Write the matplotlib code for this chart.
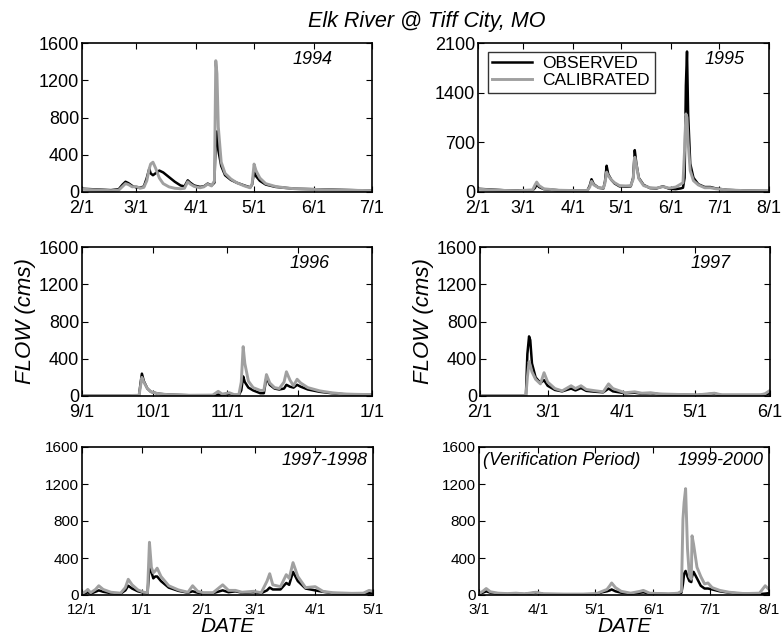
import datetime as dt
import numpy as np
import matplotlib
matplotlib.use("Agg")
import matplotlib.pyplot as plt
import matplotlib.dates as mdates
from matplotlib.ticker import FuncFormatter

plt.rcParams['font.family'] = ['Liberation Sans', 'DejaVu Sans']

# ---- data (day offset from panel start, flow in cms) ----
# 1994: 2/1 - 7/1
d94 = [0, 5, 10, 15, 19, 21, 22.5, 24, 26, 28, 30, 32, 33.5, 34.8, 35.5, 36.7, 38, 40, 42, 45,
       48, 51, 53, 54.7, 56, 58, 61, 63, 65, 67, 68.5, 69.2, 69.8, 70.5, 72, 74, 77, 80, 84, 87,
       88, 89, 90, 92, 95, 100, 105, 110, 120, 130, 140, 150]
obs94 = [35, 30, 25, 20, 30, 80, 110, 95, 65, 50, 45, 60, 150, 250, 200, 180, 200, 230, 210, 160,
         110, 70, 60, 125, 100, 70, 55, 60, 90, 70, 100, 600, 650, 450, 280, 180, 130, 100, 70, 50,
         80, 220, 170, 120, 80, 55, 45, 35, 30, 25, 20, 15]
cal94 = [30, 25, 20, 15, 20, 60, 90, 80, 55, 60, 40, 50, 120, 250, 300, 320, 260, 150, 90, 55,
         40, 35, 40, 110, 85, 60, 45, 55, 85, 65, 120, 1410, 1270, 700, 320, 200, 140, 100, 65, 45,
         90, 300, 230, 150, 90, 60, 45, 35, 28, 22, 18, 15]

# 1995: 2/1 - 8/1
d95 = [0, 8, 16, 25, 34, 35.5, 36.5, 38, 41, 50, 60, 68, 69.5, 70.6, 72, 75, 78, 79, 80, 81,
       83, 85, 88, 92, 95, 96.5, 97.5, 98.5, 100, 103, 107, 111, 115, 119, 123, 126, 127.5, 128.5,
       129.3, 130, 130.7, 132, 134, 137, 141, 144.5, 148, 155, 165, 181]
obs95 = [45, 35, 25, 20, 25, 60, 110, 70, 40, 25, 20, 20, 90, 180, 110, 60, 50, 150, 370, 250,
         170, 120, 80, 75, 80, 200, 590, 400, 200, 100, 55, 50, 80, 45, 40, 50, 60, 200,
         1500, 1980, 1100, 400, 200, 110, 70, 70, 50, 30, 20, 15]
cal95 = [40, 30, 22, 18, 30, 100, 140, 90, 45, 25, 20, 20, 70, 150, 100, 60, 55, 130, 280, 230,
         170, 130, 90, 85, 90, 180, 490, 380, 190, 90, 60, 55, 75, 55, 70, 110, 130, 600,
         1100, 1050, 700, 300, 160, 100, 60, 60, 45, 30, 20, 15]

# 1996: 9/1 - 1/1
d96 = [0, 10, 20, 24, 24.7, 25.2, 26, 27.5, 29, 32, 36, 45, 55, 57.3, 59, 62, 64, 66, 67, 67.8,
       68.5, 70, 72, 75, 76.5, 77.6, 79, 81, 83, 85, 86, 87.5, 89, 90.5, 92, 95, 100, 105, 110,
       115, 122]
obs96 = [5, 5, 5, 8, 150, 240, 160, 80, 45, 25, 15, 8, 8, 15, 10, 25, 10, 10, 60, 210,
         150, 90, 60, 30, 30, 200, 120, 80, 70, 80, 120, 100, 90, 120, 100, 70, 45, 30, 20,
         15, 12]
cal96 = [5, 5, 5, 8, 120, 200, 150, 80, 45, 25, 15, 8, 10, 50, 20, 35, 15, 15, 150, 530,
         350, 160, 90, 60, 60, 230, 140, 90, 80, 150, 260, 170, 110, 180, 140, 90, 55, 35, 22,
         18, 15]

# 1997: 2/1 - 6/1
d97 = [0, 10, 19, 19.6, 20.3, 20.8, 21.5, 23, 25, 26.5, 28, 31, 34, 37.7, 39.5, 41.8, 44, 48,
       51, 53.2, 55, 60, 64, 67, 70.6, 74, 80, 90, 97, 100, 110, 116, 118, 120]
obs97 = [5, 5, 5, 450, 640, 600, 350, 200, 140, 170, 110, 65, 50, 80, 60, 85, 55, 45,
         40, 80, 50, 30, 35, 25, 30, 20, 15, 10, 25, 10, 10, 10, 15, 30]
cal97 = [5, 5, 5, 200, 370, 330, 260, 180, 130, 250, 150, 80, 55, 110, 80, 110, 70, 55,
         45, 130, 80, 35, 45, 30, 35, 22, 18, 12, 30, 12, 12, 12, 25, 60]

# 1997-1998: 12/1 - 5/1
d98 = [0, 2, 3, 4.5, 7, 8.7, 11, 15, 20, 22.5, 24, 26, 29, 32, 34, 35, 36, 37, 38, 39,
       41, 45, 50, 55, 57.4, 60, 63, 68, 73, 76, 79.6, 83, 89, 93, 96, 97.4, 99, 103, 106,
       107.5, 109.5, 112, 116, 121, 125, 130, 140, 146, 149, 151]
obs98 = [10, 20, 30, 15, 35, 50, 35, 20, 15, 50, 100, 70, 40, 25, 20, 310, 250, 180, 200, 200,
         150, 80, 45, 25, 40, 25, 20, 20, 50, 30, 40, 25, 30, 20, 50, 80, 60, 60, 130,
         110, 250, 150, 70, 50, 35, 20, 15, 15, 20, 20]
cal98 = [15, 40, 60, 25, 60, 100, 60, 30, 20, 80, 170, 110, 55, 30, 25, 570, 300, 240, 260, 290,
         200, 100, 55, 30, 100, 40, 25, 25, 110, 50, 50, 30, 40, 25, 150, 230, 110, 90, 220,
         180, 350, 200, 80, 90, 40, 25, 18, 20, 50, 40]

# 1999-2000 (verification): 3/1 - 8/1
d00 = [0, 2, 3.8, 6, 10, 15, 19.5, 24, 30, 34, 45, 55, 62, 65, 67.5, 69, 70, 72, 75, 80,
       85, 86.7, 90, 100, 105, 106.8, 107.6, 108.2, 109, 110, 111, 112, 112.4, 113.2, 115,
       117, 119, 120.8, 123, 127, 132, 140, 148, 151, 153]
obs00 = [10, 25, 40, 25, 15, 10, 15, 10, 25, 10, 8, 8, 10, 30, 40, 50, 60, 40, 25, 15,
         25, 30, 15, 10, 12, 25, 120, 230, 260, 200, 150, 140, 200, 250, 180,
         100, 70, 70, 60, 40, 25, 12, 10, 15, 20]
cal00 = [15, 40, 70, 35, 20, 15, 20, 12, 30, 12, 10, 10, 15, 40, 60, 100, 130, 80, 40, 20,
         40, 50, 20, 12, 20, 40, 820, 1000, 1150, 500, 200, 170, 640, 550, 300,
         200, 120, 130, 80, 50, 30, 15, 20, 100, 60]

panels = [
    # start, end, days, obs, cal, ymax, ystep, label
    (dt.date(1994, 2, 1), dt.date(1994, 7, 1), d94, obs94, cal94, 1600, 400, "1994"),
    (dt.date(1995, 2, 1), dt.date(1995, 8, 1), d95, obs95, cal95, 2100, 700, "1995"),
    (dt.date(1996, 9, 1), dt.date(1997, 1, 1), d96, obs96, cal96, 1600, 400, "1996"),
    (dt.date(1997, 2, 1), dt.date(1997, 6, 1), d97, obs97, cal97, 1600, 400, "1997"),
    (dt.date(1997, 12, 1), dt.date(1998, 5, 1), d98, obs98, cal98, 1600, 400, "1997-1998"),
    (dt.date(2000, 3, 1), dt.date(2000, 8, 1), d00, obs00, cal00, 1600, 400, "1999-2000"),
]

# axes boxes in pixels: left, top, right, bottom
boxes = [(82, 43, 372, 192), (478, 43, 769, 192),
         (82, 247, 372, 396), (480, 247, 770, 396),
         (82, 447, 373, 595), (479, 447, 769, 595)]
W, H = 783, 639
GRAY = '#a0a0a0'

fig = plt.figure(figsize=(W / 100, H / 100), dpi=100)

def md(x, pos):
    d = mdates.num2date(x)
    return f"{d.month}/{d.day}"

for i, (p, b) in enumerate(zip(panels, boxes)):
    start, end, days, obs, cal, ymax, ystep, lab = p
    l, t, r, bt = b
    ax = fig.add_axes([l / W, (H - bt) / H, (r - l) / W, (bt - t) / H])
    x0 = mdates.date2num(start)
    x = x0 + np.array(days)
    ax.plot(x, obs, color='black', lw=1.8, label='OBSERVED')
    ax.plot(x, cal, color=GRAY, lw=2.1, label='CALIBRATED')
    ax.set_xlim(x0, mdates.date2num(end))
    ax.set_ylim(0, ymax)
    ax.set_yticks(np.arange(0, ymax + 1, ystep))
    ax.xaxis.set_major_locator(mdates.MonthLocator())
    ax.xaxis.set_major_formatter(FuncFormatter(md))
    fs = 13 if i < 4 else 11
    ax.tick_params(direction='in', top=True, right=True, length=4, width=0.8,
                   labelsize=fs)
    ax.tick_params(axis='x', pad=5.5)
    ax.tick_params(axis='y', pad=2)
    for s in ax.spines.values():
        s.set_linewidth(1.2)
    if i == 4:
        ax.text(0.98, 0.91, lab, transform=ax.transAxes, ha='right', va='center',
                style='italic', fontsize=13)
    elif i == 5:
        ax.text(0.98, 0.91, lab, transform=ax.transAxes, ha='right', va='center',
                style='italic', fontsize=13)
        ax.text(0.015, 0.91, "(Verification Period)", transform=ax.transAxes,
                ha='left', va='center', style='italic', fontsize=13)
    else:
        off = {0: 0.865, 1: 0.915, 2: 0.855, 3: 0.865}[i]
        ax.text(off, 0.89, lab, transform=ax.transAxes, ha='right', va='center',
                style='italic', fontsize=13)
    if i in (2, 3):
        ax.set_ylabel("FLOW (cms)", style='italic', fontsize=16, labelpad=2)
    if i in (4, 5):
        ax.set_xlabel("DATE", style='italic', fontsize=15, labelpad=0)
    if i == 1:
        ax.legend(loc='upper left', bbox_to_anchor=(0.034, 0.94), borderaxespad=0,
                  frameon=True, fancybox=False, edgecolor='black', fontsize=12.5,
                  handlelength=2.3, borderpad=0.25, labelspacing=0.1, handletextpad=0.6)

fig.text(427 / W, 1 - 21 / H, "Elk River @ Tiff City, MO", ha='center', va='center',
         style='italic', fontsize=15.5)

fig.savefig("out.png", dpi=100)
